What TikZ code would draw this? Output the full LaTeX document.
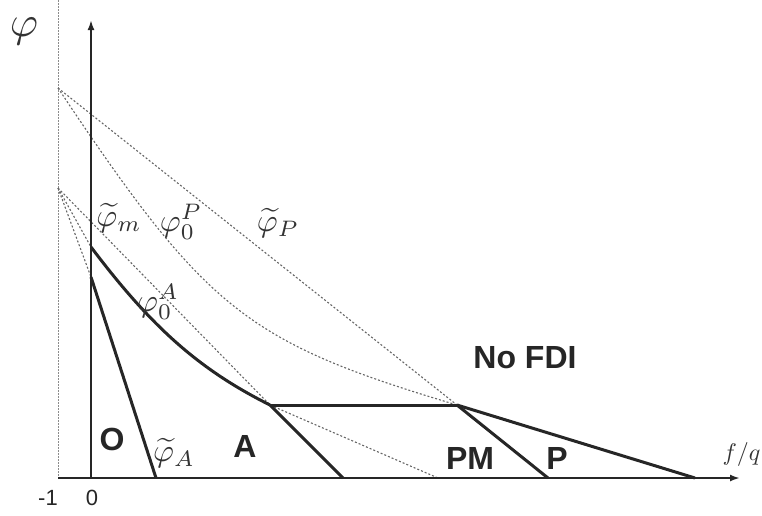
\documentclass[tikz,border=0pt]{standalone}
\usepackage{fontspec}
\setsansfont{Liberation Sans}
\usetikzlibrary{arrows.meta}
\begin{document}
\begin{tikzpicture}[x=1pt,y=-1pt,
  bold/.style={line width=3pt, black!85, line join=round},
  axis/.style={line width=2.4pt, black!85},
  guide/.style={black!60, line width=1.1pt, dash pattern=on 2pt off 2pt},
  vguide/.style={black!45, line width=1pt, dash pattern=on 1.5pt off 1.5pt},
  region/.style={font=\sffamily\bfseries\fontsize{32}{36}\selectfont, text=black!85, inner sep=0pt},
  mlab/.style={scale=3.2, text=black!80, inner sep=0pt},
  tick/.style={font=\sffamily\fontsize{22}{24}\selectfont, text=black!85, inner sep=0pt}]
\useasboundingbox (0,0) rectangle (762,515);
% points
\coordinate (top) at (58,0);
\coordinate (m1) at (58,478);
\coordinate (o) at (91,478);
\coordinate (ytop) at (91,20);
\coordinate (xend) at (740,478);
\coordinate (Pt) at (58,88);
\coordinate (Pa) at (58,188);
\coordinate (M) at (91,247);
\coordinate (Ot) at (91,277);
\coordinate (Ob) at (156,478);
\coordinate (J1) at (270,405);
\coordinate (J1b) at (343,478);
\coordinate (J2) at (457,405);
\coordinate (J2b) at (548,478);
\coordinate (Pend) at (695,478);
\coordinate (Dq) at (438,478);
% guides
\draw[vguide] (top) -- (m1);
\draw[guide] (Pt) -- (J2);
\draw[guide] (Pt) .. controls (206,310) and (246,342) .. (J2);
\draw[guide] (J2) -- (Pend);
\draw[guide] (Pa) -- (J1) -- (Dq);
\draw[guide] (Pa) -- (M);
\draw[guide] (Pa) -- (Ot);
% axes
\draw[axis,-{Latex[length=10pt,width=7pt]}] (m1) -- (xend);
\draw[axis,-{Latex[length=10pt,width=7pt]}] (o) -- (ytop);
% boundaries
\draw[bold] (M) .. controls (152,328) and (200,370) .. (J1);
\draw[bold] (Ot) -- (Ob);
\draw[bold] (J1) -- (J1b);
\draw[bold] (J1) -- (J2);
\draw[bold] (J2) -- (J2b);
\draw[bold] (J2) -- (Pend);
% labels
\node[mlab, scale=1.35] (phi) at (24,31) {$\varphi$};
\node[mlab] (lm) at (119,218) {$\widetilde{\varphi}_m$};
\node[mlab] (l0P) at (181,222) {$\varphi_0^P$};
\node[mlab] (lP) at (278,223) {$\widetilde{\varphi}_P$};
\node[mlab] (l0A) at (158,302) {$\varphi_0^A$};
\node[mlab] (lA) at (174,453) {$\widetilde{\varphi}_A$};
\node[region] (rO) at (112,439) {O};
\node[region] (rA) at (245,446) {A};
\node[region] (rPM) at (470,458) {PM};
\node[region] (rP) at (557,458) {P};
\node[region] (rN) at (525,358) {No FDI};
\node[mlab, scale=0.75, anchor=east] (fq) at (761,454) {$f/q$};
\node[tick] (tm1) at (48,498) {-1};
\node[tick] (t0) at (92,498) {0};
\end{tikzpicture}
\end{document}
